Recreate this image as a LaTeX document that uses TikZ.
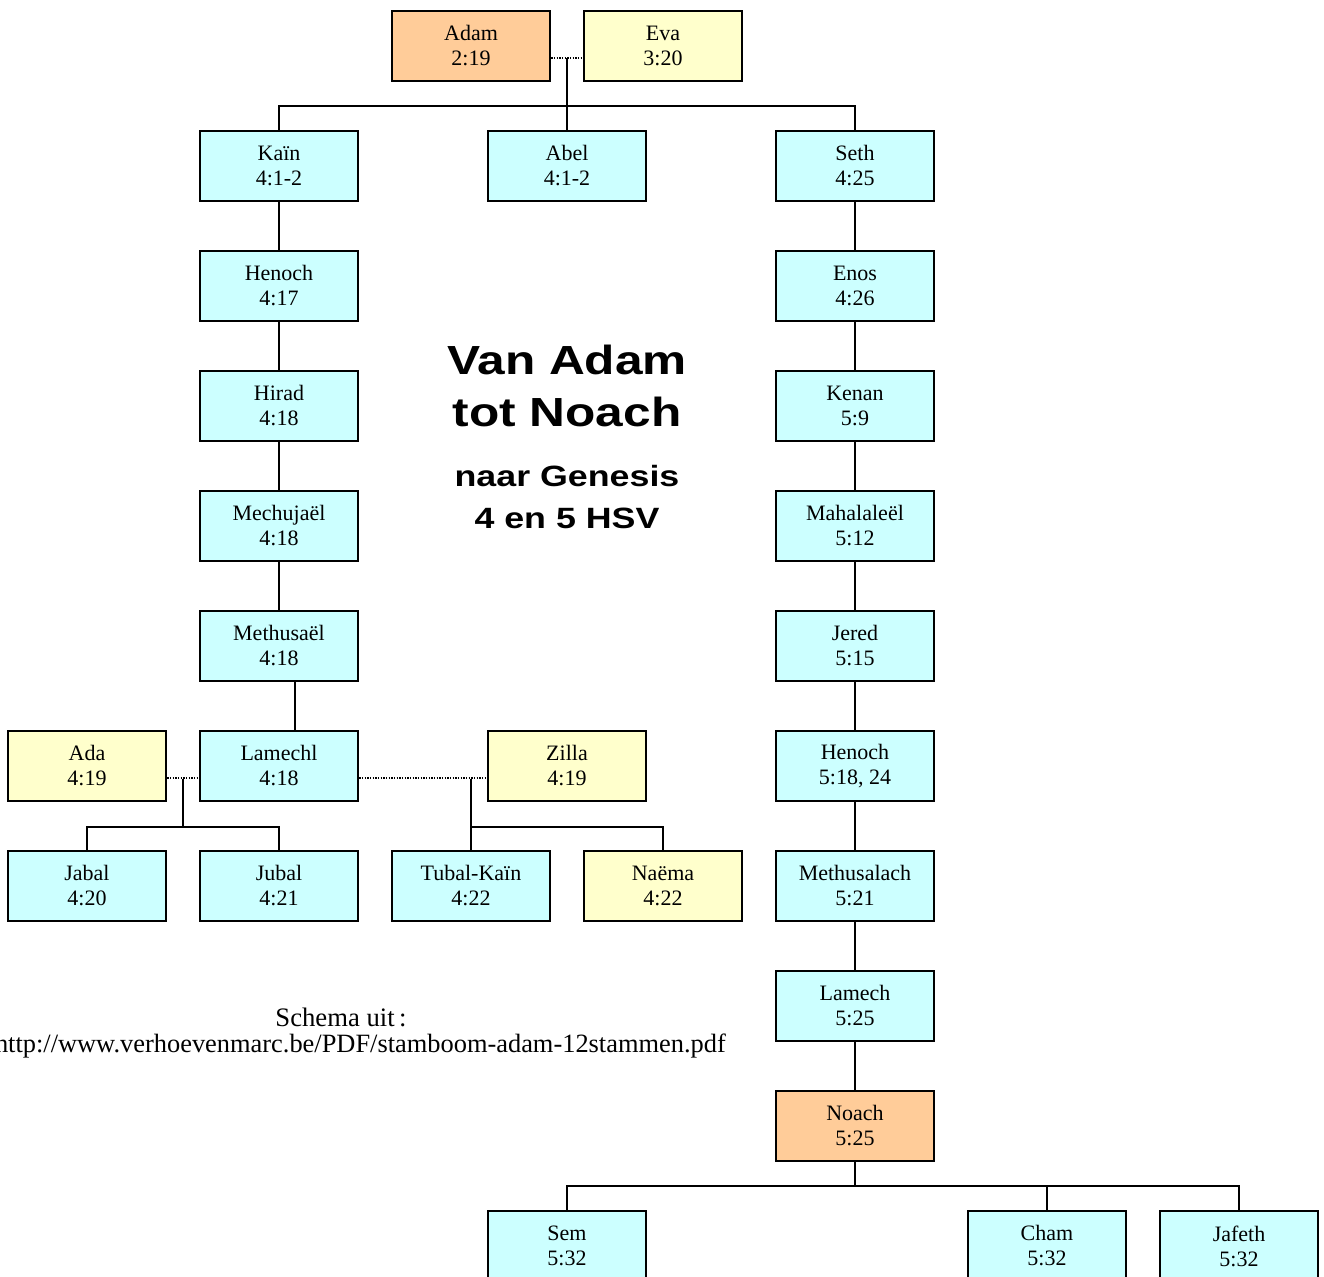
\documentclass[tikz,border=0pt]{standalone}
\usepackage{fontspec}
\setmainfont{Liberation Serif}
\newfontfamily\titlefont[FakeStretch=1.22]{Liberation Sans}
\definecolor{orangebox}{HTML}{FFCC99}
\definecolor{yellowbox}{HTML}{FFFFCC}
\definecolor{cyanbox}{HTML}{CCFFFF}
\tikzset{
  person/.style={draw, line width=1.5pt, fill=cyanbox, minimum width=119pt,
    minimum height=53pt, inner sep=0pt, align=center,
    font=\fontsize{16.5}{18.75}\selectfont},
  wife/.style={person, fill=yellowbox},
  patriarch/.style={person, fill=orangebox},
  line/.style={line width=1pt},
  marriage/.style={line width=1pt, densely dotted},
}
\begin{document}
\begin{tikzpicture}[x=0.75pt, y=-0.75pt]
      \useasboundingbox (0,0) rectangle (1324,1277);
      \node[patriarch] (adam) at (471,46) {Adam\\2:19};
      \node[wife] (eva) at (663,46) {Eva\\3:20};
      \node[person] (kain) at (279,166) {Kaïn\\4:1-2};
      \node[person] (abel) at (567,166) {Abel\\4:1-2};
      \node[person] (seth) at (855,166) {Seth\\4:25};
      \node[person] (henochk) at (279,286) {Henoch\\4:17};
      \node[person] (hirad) at (279,406) {Hirad\\4:18};
      \node[person] (mechujael) at (279,526) {Mechujaël\\4:18};
      \node[person] (methusael) at (279,646) {Methusaël\\4:18};
      \node[person] (lamechl) at (279,766) {Lamechl\\4:18};
      \node[wife] (ada) at (87,766) {Ada\\4:19};
      \node[wife] (zilla) at (567,766) {Zilla\\4:19};
      \node[person] (jabal) at (87,886) {Jabal\\4:20};
      \node[person] (jubal) at (279,886) {Jubal\\4:21};
      \node[person] (tubal) at (471,886) {Tubal-Kaïn\\4:22};
      \node[wife] (naema) at (663,886) {Naëma\\4:22};
      \node[person] (enos) at (855,286) {Enos\\4:26};
      \node[person] (kenan) at (855,406) {Kenan\\5:9};
      \node[person] (mahalaleel) at (855,526) {Mahalaleël\\5:12};
      \node[person] (jered) at (855,646) {Jered\\5:15};
      \node[person] (henoch) at (855,766) {Henoch\\5:18, 24};
      \node[person] (methusalach) at (855,886) {Methusalach\\5:21};
      \node[person] (lamech) at (855,1006) {Lamech\\5:25};
      \node[patriarch] (noach) at (855,1126) {Noach\\5:25};
      \node[person] (sem) at (567,1246) {Sem\\5:32};
      \node[person] (cham) at (1047,1246) {Cham\\5:32};
      \node[person] (jafeth) at (1239,1246) {Jafeth\\5:32};
      \node[font=\titlefont\bfseries\fontsize{30.5}{39}\selectfont, align=center] (title) at (567,386) {Van Adam\\tot Noach};
      \node[font=\titlefont\bfseries\fontsize{22}{32}\selectfont, align=center] (subtitle) at (567,497) {naar Genesis\\4 en 5 HSV};
      \node[font=\fontsize{20}{22}\selectfont] (schema) at (341,1017) {Schema uit\,:};
      \node[font=\fontsize{19.8}{22}\selectfont, anchor=east, inner sep=0pt] (url) at (726,1046) {http://www.verhoevenmarc.be/PDF/stamboom-adam-12stammen.pdf};
      \coordinate (adameva) at (567,58);
      \coordinate (sons) at (567,106);
      \draw[marriage] ([yshift=-9pt]adam.east) -- ([yshift=-9pt]eva.west);
      \draw[line] (adameva) -- (abel.north);
      \draw[line] (kain.north) |- (sons) -| (seth.north);
      \foreach \a/\b in {kain/henochk, henochk/hirad, hirad/mechujael, mechujael/methusael}
        \draw[line] (\a) -- (\b);
      \draw[line] ([xshift=12pt]methusael.south) -- ([xshift=12pt]lamechl.north);
      \coordinate (adalamech) at (183,779);
      \coordinate (adakids) at (183,827);
      \draw[marriage] ([yshift=-9pt]ada.east) -- ([yshift=-9pt]lamechl.west);
      \draw[line] (adalamech) -- (adakids);
      \draw[line] (jabal.north) |- (adakids) -| (jubal.north);
      \coordinate (lamechzilla) at (471,779);
      \coordinate (zillakids) at (471,827);
      \draw[marriage] ([yshift=-9pt]lamechl.east) -- ([yshift=-9pt]zilla.west);
      \draw[line] (lamechzilla) -- (tubal.north);
      \draw[line] (zillakids) -| (naema.north);
      \foreach \a/\b in {seth/enos, enos/kenan, kenan/mahalaleel, mahalaleel/jered, jered/henoch, henoch/methusalach, methusalach/lamech, lamech/noach}
        \draw[line] (\a) -- (\b);
      \coordinate (noachkids) at (855,1186);
      \draw[line] (noach) -- (noachkids);
      \draw[line] (sem.north) |- (noachkids) -| (jafeth.north);
      \draw[line] (cham.north) -- (cham.north |- noachkids);
    \end{tikzpicture}
\end{document}
